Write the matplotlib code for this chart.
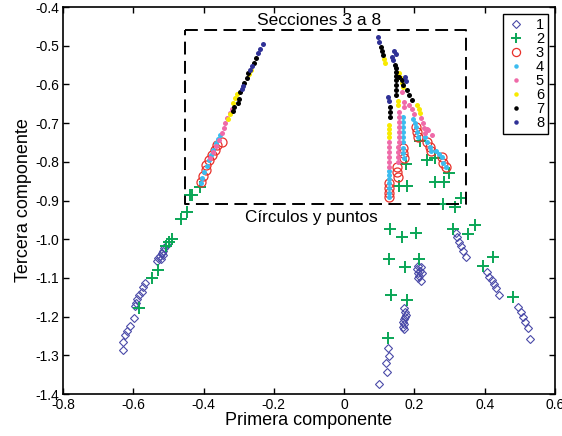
import matplotlib
matplotlib.use('Agg')
import matplotlib.pyplot as plt
from matplotlib.ticker import FixedLocator, FuncFormatter

plt.rcParams['font.family'] = ['Liberation Sans', 'DejaVu Sans']
plt.rcParams['axes.unicode_minus'] = False

# ---------------- data ----------------
etiquetas = ['1', '2', '3', '4', '5', '6', '7', '8']

s1_x = [-0.566, -0.572, -0.575, -0.583, -0.589, -0.592, -0.595, -0.598, -0.609, -0.618, -0.623, -0.629, -0.629,
        -0.504, -0.512, -0.515, -0.518, -0.524, -0.529, -0.532, -0.515, -0.521,
        0.100, 0.122, 0.120, 0.128, 0.125,
        0.169, 0.174, 0.176, 0.174, 0.171, 0.167, 0.169, 0.167, 0.171,
        0.211, 0.218, 0.207, 0.216, 0.211, 0.221, 0.214, 0.211, 0.218,
        0.319, 0.322, 0.327, 0.333, 0.339, 0.347,
        0.407, 0.413, 0.421, 0.427, 0.433, 0.441,
        0.495, 0.504, 0.509, 0.515, 0.524, 0.529]
s1_y = [-1.113, -1.124, -1.136, -1.144, -1.155, -1.165, -1.173, -1.204, -1.224, -1.237, -1.248, -1.266, -1.286,
        -1.015, -1.023, -1.030, -1.036, -1.043, -1.049, -1.056, -1.041, -1.051,
        -1.374, -1.343, -1.320, -1.302, -1.281,
        -1.178, -1.188, -1.196, -1.201, -1.206, -1.214, -1.219, -1.227, -1.232,
        -1.069, -1.073, -1.078, -1.081, -1.088, -1.087, -1.095, -1.101, -1.107,
        -0.984, -0.994, -1.007, -1.017, -1.030, -1.046,
        -1.085, -1.098, -1.105, -1.116, -1.126, -1.144,
        -1.175, -1.188, -1.201, -1.214, -1.229, -1.258]

s2_x = [-0.410, -0.433, -0.438, -0.447, -0.464, -0.489, -0.499, -0.507, -0.529, -0.546, -0.583,
        0.176, 0.157, 0.179, 0.216, 0.236, 0.259, 0.299, 0.259, 0.283, 0.282, 0.316, 0.333,
        0.131, 0.165, 0.205, 0.128, 0.174, 0.213, 0.134, 0.179, 0.125,
        0.310, 0.353, 0.373, 0.396, 0.424, 0.481]
s2_y = [-0.865, -0.885, -0.887, -0.930, -0.948, -1.000, -1.008, -1.018, -1.080, -1.100, -1.178,
        -0.806, -0.862, -0.862, -0.745, -0.795, -0.790, -0.829, -0.852, -0.852, -0.910, -0.918, -0.894,
        -0.974, -0.994, -0.984, -1.051, -1.072, -1.051, -1.144, -1.157, -1.255,
        -0.974, -0.987, -0.963, -1.069, -1.046, -1.149]

s3_x = [-0.347, -0.361, -0.367, -0.376, -0.384, -0.393, -0.393, -0.401, -0.407,
        0.128, 0.128, 0.128, 0.128,
        0.151, 0.151, 0.154,
        0.168, 0.168, 0.171,
        0.205, 0.208, 0.211,
        0.236, 0.245, 0.248, 0.279, 0.282, 0.290]
s3_y = [-0.749, -0.757, -0.770, -0.782, -0.795, -0.808, -0.821, -0.837, -0.852,
        -0.855, -0.868, -0.881, -0.891,
        -0.813, -0.826, -0.839,
        -0.764, -0.777, -0.790,
        -0.710, -0.723, -0.736,
        -0.749, -0.762, -0.772, -0.788, -0.803, -0.813]

s4_x = [-0.353, -0.359, -0.364, -0.373, -0.379, -0.384, -0.390, -0.398, -0.404, -0.407,
        0.128, 0.128, 0.128, 0.128, 0.128, 0.128, 0.128,
        0.168, 0.168, 0.168, 0.168, 0.168, 0.168, 0.168, 0.168, 0.171,
        0.196, 0.202, 0.205, 0.208, 0.211,
        0.231, 0.236, 0.245, 0.248, 0.262, 0.270, 0.279, 0.282, 0.290]
s4_y = [-0.731, -0.741, -0.751, -0.770, -0.782, -0.795, -0.811, -0.826, -0.842, -0.855,
        -0.824, -0.834, -0.844, -0.855, -0.868, -0.881, -0.891,
        -0.684, -0.697, -0.710, -0.723, -0.736, -0.749, -0.764, -0.777, -0.790,
        -0.689, -0.700, -0.710, -0.723, -0.736,
        -0.736, -0.749, -0.762, -0.772, -0.772, -0.780, -0.788, -0.803, -0.813]

s5_x = [-0.319, -0.324, -0.333, -0.339, -0.342, -0.347, -0.356, -0.364, -0.373, -0.381,
        0.128, 0.128, 0.128, 0.128, 0.128, 0.128,
        0.157, 0.157, 0.156, 0.156, 0.156, 0.155, 0.155, 0.154, 0.154, 0.153, 0.153,
        0.165, 0.170, 0.169,
        0.185, 0.194, 0.199,
        0.219, 0.225, 0.228, 0.236, 0.231, 0.239, 0.250]
s5_y = [-0.664, -0.674, -0.687, -0.700, -0.713, -0.726, -0.744, -0.759, -0.775, -0.790,
        -0.749, -0.762, -0.775, -0.788, -0.801, -0.813,
        -0.671, -0.684, -0.697, -0.710, -0.723, -0.736, -0.749, -0.762, -0.775, -0.788, -0.801,
        -0.619, -0.646, -0.658,
        -0.653, -0.664, -0.677,
        -0.687, -0.700, -0.713, -0.715, -0.726, -0.718, -0.731]

s6_x = [-0.265, -0.270, -0.305, -0.310, -0.316, -0.324, -0.330,
        0.114, 0.117,
        0.157, 0.162, 0.165, 0.168,
        0.154, 0.154,
        0.208, 0.213, 0.216,
        0.128, 0.128, 0.128, 0.128]
s6_y = [-0.563, -0.573, -0.625, -0.635, -0.648, -0.677, -0.689,
        -0.534, -0.545,
        -0.571, -0.584, -0.596, -0.607,
        -0.643, -0.653,
        -0.653, -0.664, -0.674,
        -0.705, -0.715, -0.726, -0.736]

s7_x = [-0.250, -0.256, -0.273, -0.276, -0.285, -0.296, -0.299, -0.302, -0.313, -0.316,
        0.105, 0.108, 0.111,
        0.145, 0.148, 0.148, 0.148, 0.148, 0.148, 0.148, 0.148,
        0.157, 0.165, 0.168, 0.179, 0.185, 0.194,
        0.131, 0.131, 0.131]
s7_y = [-0.532, -0.545, -0.571, -0.584, -0.596, -0.620, -0.638, -0.648, -0.658, -0.669,
        -0.503, -0.514, -0.524,
        -0.550, -0.558, -0.568, -0.578, -0.589, -0.602, -0.615, -0.627,
        -0.581, -0.589, -0.602, -0.615, -0.627, -0.640,
        -0.658, -0.671, -0.684]

s8_x = [-0.231, -0.239, -0.245, -0.262, -0.268, -0.287, -0.290,
        0.097, 0.100, 0.142, 0.148, 0.137, 0.139, 0.174, 0.176, 0.125, 0.128]
s8_y = [-0.496, -0.509, -0.519, -0.553, -0.563, -0.604, -0.612,
        -0.478, -0.490, -0.514, -0.521, -0.529, -0.537, -0.581, -0.591, -0.633, -0.643]

caja_x = [-0.452, 0.347]
caja_y = [-0.909, -0.459]

xticks = [-0.8, -0.6, -0.4, -0.2, 0.0, 0.2, 0.4, 0.6]
yticks = [-1.4, -1.3, -1.2, -1.1, -1.0, -0.9, -0.8, -0.7, -0.6, -0.5, -0.4]

# ---------------- figure ----------------
fig = plt.figure(figsize=(5.62, 4.36), dpi=100)
ax = fig.add_axes([0.1121, 0.0963, 0.8754, 0.8876])

ax.plot(s1_x, s1_y, ls='none', marker='D', ms=4.4, mfc='none', mec='#4a4aa8', mew=0.8, label=etiquetas[0])
ax.plot(s2_x, s2_y, ls='none', marker='+', ms=8, mec='#0aa656', mew=1.4, label=etiquetas[1])
ax.plot(s3_x, s3_y, ls='none', marker='o', ms=6.5, mfc='none', mec='#e8302a', mew=0.9, label=etiquetas[2])
ax.plot(s4_x, s4_y, ls='none', marker='o', ms=3.6, mfc='#3cbcef', mec='#3cbcef', mew=0, label=etiquetas[3])
ax.plot(s5_x, s5_y, ls='none', marker='o', ms=3.6, mfc='#ef6aa8', mec='#ef6aa8', mew=0, label=etiquetas[4])
ax.plot(s6_x, s6_y, ls='none', marker='o', ms=3.6, mfc='#f8ea00', mec='#f8ea00', mew=0, label=etiquetas[5])
ax.plot(s7_x, s7_y, ls='none', marker='o', ms=3.6, mfc='black', mec='black', mew=0, label=etiquetas[6])
ax.plot(s8_x, s8_y, ls='none', marker='o', ms=3.6, mfc='#2f3196', mec='#2f3196', mew=0, label=etiquetas[7])

# dashed box
bx = [caja_x[0], caja_x[1], caja_x[1], caja_x[0], caja_x[0]]
by = [caja_y[1], caja_y[1], caja_y[0], caja_y[0], caja_y[1]]
ax.plot(bx, by, color='black', lw=1.4, ls=(0, (6.6, 3.3)))

ax.text(sum(caja_x) / 2 - 0.02, caja_y[1] + 0.006, 'Secciones 3 a 8', ha='center', va='bottom', fontsize=12.5)
ax.text(sum(caja_x) / 2 - 0.04, caja_y[0] - 0.016, 'Círculos y puntos', ha='center', va='top', fontsize=12.3)

ax.set_xlim(xticks[0], xticks[-1])
ax.set_ylim(yticks[0], yticks[-1])
ax.xaxis.set_major_locator(FixedLocator(xticks))
ax.yaxis.set_major_locator(FixedLocator(yticks))
ax.xaxis.set_major_formatter(FuncFormatter(lambda v, p: '0' if abs(v) < 1e-9 else f'{v:.1f}'))
ax.yaxis.set_major_formatter(FuncFormatter(lambda v, p: f'{v:.1f}'))
ax.tick_params(direction='in', length=4.5, width=1.0, top=True, right=True, labelsize=10, pad=3)
for sp in ax.spines.values():
    sp.set_linewidth(1.2)

ax.set_xlabel('Primera componente', fontsize=13, labelpad=0)
ax.set_ylabel('Tercera componente', fontsize=13, labelpad=2)

leg = ax.legend(loc='upper right', fontsize=10.5, frameon=True, fancybox=False, edgecolor='black',
                framealpha=1, labelspacing=0.0, handlelength=1.3, handletextpad=0.7,
                borderpad=0.25, borderaxespad=0.5, markerscale=0.9)
leg.get_frame().set_linewidth(1.0)

fig.savefig('out.png', dpi=100)
